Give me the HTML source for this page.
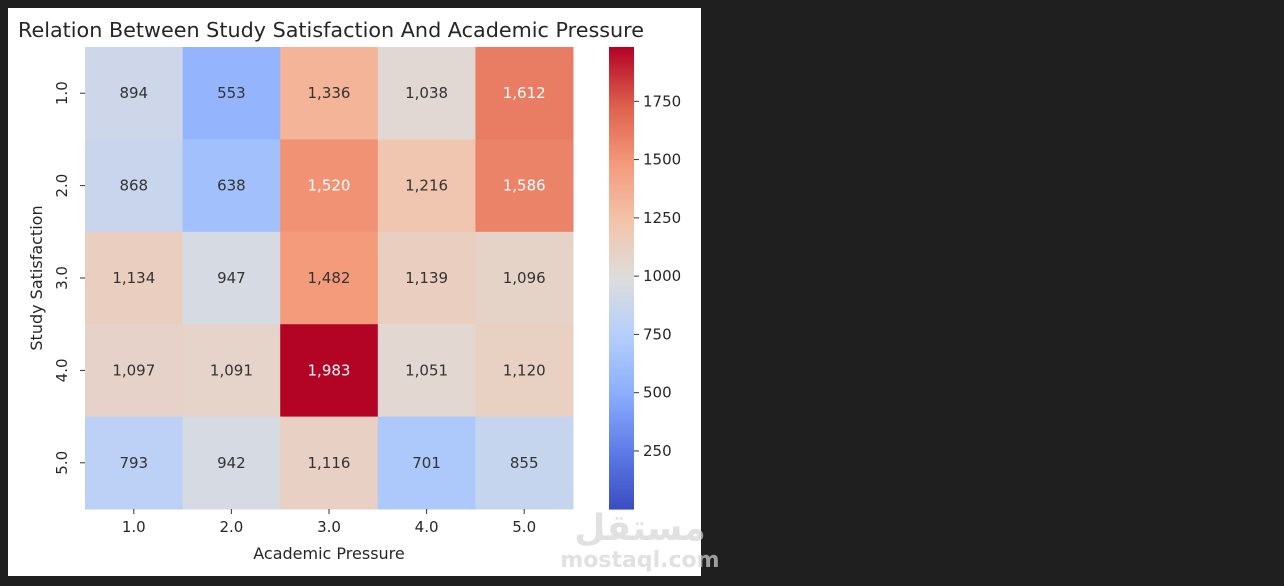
<!DOCTYPE html>
<html><head><meta charset="utf-8"><style>
body{margin:0;background:#1f1f1f;width:1284px;height:586px;overflow:hidden;font-family:"DejaVu Sans","Liberation Sans",sans-serif}
#panel{position:absolute;left:8px;top:8px;width:693px;height:568px;background:#fff}
svg text{font-family:"DejaVu Sans","Liberation Sans",sans-serif}
</style></head><body>
<div id="panel"></div>
<svg id="svg" width="1284" height="586" style="position:absolute;left:0;top:0"></svg>
<script>
const rowLabels=["1.0","2.0","3.0","4.0","5.0"];
const colLabels=["1.0","2.0","3.0","4.0","5.0"];
const row1=[894,553,1336,1038,1612];
const row2=[868,638,1520,1216,1586];
const row3=[1134,947,1482,1139,1096];
const row4=[1097,1091,1983,1051,1120];
const row5=[793,942,1116,701,855];
const values=[row1,row2,row3,row4,row5];
const cbTicks=[250,500,750,1000,1250,1500,1750];
const vmin=1, vmax=1983;
const NS="http://www.w3.org/2000/svg";
const svg=document.getElementById('svg');
function el(t,a,txt){const e=document.createElementNS(NS,t);for(const k in a)e.setAttribute(k,a[k]);if(txt!==undefined)e.textContent=txt;svg.appendChild(e);return e;}
const stops=[[58,76,192],[92,123,230],[138,173,253],[180,206,251],[221,221,221],[243,196,171],[244,154,123],[222,96,76],[180,4,38]];
function cmap(t){t=Math.max(0,Math.min(1,t));const p=t*8,i=Math.min(7,Math.floor(p)),f=p-i;const a=stops[i],b=stops[i+1];return [0,1,2].map(k=>Math.round(a[k]+(b[k]-a[k])*f));}
function lum(c){const l=c.map(v=>{v/=255;return v<=0.03928?v/12.92:Math.pow((v+0.055)/1.055,2.4)});return 0.2126*l[0]+0.7152*l[1]+0.0722*l[2];}
const X0=85,X1=573,Y0=47,Y1=509;
const cw=(X1-X0)/colLabels.length, ch=(Y1-Y0)/rowLabels.length;
const xPos=i=>X0+i*cw, yPos=j=>Y0+j*ch;
values.forEach((row,j)=>row.forEach((v,i)=>{
  const c=cmap((v-vmin)/(vmax-vmin));
  const r=el('rect',{x:xPos(i),y:yPos(j),width:cw+0.5,height:ch+0.5,fill:`rgb(${c})`});
  
  
  const t=el('text',{x:xPos(i)+cw/2,y:yPos(j)+ch/2+5,'text-anchor':'middle','font-size':15,fill:lum(c)>0.42?'#333':'#fff'},v.toLocaleString('en-US'));
  
  
}));
colLabels.forEach((l,i)=>{
  el('line',{x1:xPos(i)+cw/2,x2:xPos(i)+cw/2,y1:Y1,y2:Y1+5,stroke:'#333'});
  const t=el('text',{x:xPos(i)+cw/2,y:Y1+23,'text-anchor':'middle','font-size':15,fill:'#262626'},l);
  
  
});
rowLabels.forEach((l,j)=>{
  const y=yPos(j)+ch/2;
  el('line',{x1:X0-5,x2:X0,y1:y,y2:y,stroke:'#333'});
  const t=el('text',{x:0,y:0,transform:`translate(67,${y}) rotate(-90)`,'text-anchor':'middle','font-size':15,fill:'#262626'},l);
  
  
});
let t=el('text',{x:(X0+X1)/2,y:559,'text-anchor':'middle','font-size':16,fill:'#262626'},'Academic Pressure');

t=el('text',{x:0,y:0,transform:`translate(42,${(Y0+Y1)/2}) rotate(-90)`,'text-anchor':'middle','font-size':16,fill:'#262626'},'Study Satisfaction');

t=el('text',{x:331,y:37,'text-anchor':'middle','font-size':20,fill:'#262626',textLength:626,lengthAdjust:'spacingAndGlyphs'},'Relation Between Study Satisfaction And Academic Pressure');

// colorbar
const CX=609,CW=25;
const cbY=v=>Y1-(v-vmin)/(vmax-vmin)*(Y1-Y0);
for(let k=0;k<200;k++){const y=Y0+k*(Y1-Y0)/200;const c=cmap(1-k/200);el('rect',{x:CX,y:y,width:CW,height:(Y1-Y0)/200+0.6,fill:`rgb(${c})`});}
cbTicks.forEach(v=>{
  const y=cbY(v);
  el('line',{x1:CX+CW,x2:CX+CW+5,y1:y,y2:y,stroke:'#333'});
  const tt=el('text',{x:CX+CW+9,y:y+5,'font-size':15,fill:'#262626'},v);
  
  
});
// watermark
t=el('text',{x:640,y:567,'text-anchor':'middle','font-size':22,'font-weight':'bold',fill:'#d4d4d4','fill-opacity':0.7},'mostaql.com');

t=el('text',{x:640,y:540,'text-anchor':'middle','font-size':36,'font-weight':'bold',fill:'#d4d4d4','fill-opacity':0.7},'مستقل');

</script>
</body></html>
